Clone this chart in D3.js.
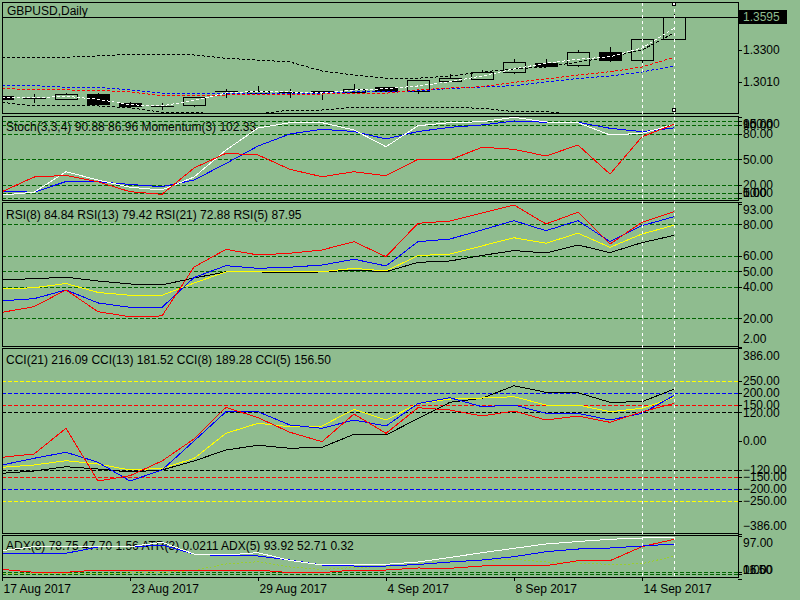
<!DOCTYPE html>
<html>
<head>
<meta charset="utf-8">
<script src="https://cdn.jsdelivr.net/npm/d3@7"></script>
<style>
  body { margin: 0; background: #8fbc8f; }
  svg { display: block; font-family: "Liberation Sans", Arial, sans-serif; font-size: 12px; shape-rendering: crispEdges; }
</style>
</head>
<body>
<svg class="chart" width="800" height="600"></svg>
<script>
// ---- data ----
var dates = ["2017-08-17","2017-08-18","2017-08-21","2017-08-22","2017-08-23","2017-08-24","2017-08-25",
             "2017-08-28","2017-08-29","2017-08-30","2017-08-31","2017-09-01","2017-09-04","2017-09-05",
             "2017-09-06","2017-09-07","2017-09-08","2017-09-11","2017-09-12","2017-09-13","2017-09-14","2017-09-15"];
var tickDates = ["2017-08-17","2017-08-23","2017-08-29","2017-09-04","2017-09-08","2017-09-14"];

var open  = [1.2886,1.2867,1.2853,1.2901,1.2817,1.2794,1.2795,1.2927,1.2910,1.2918,1.2929,1.2922,1.2962,1.2929,1.3025,1.3035,1.3098,1.3185,1.3161,1.3279,1.3207,1.3397];
var high  = [1.2892,1.2901,1.2908,1.2906,1.2829,1.2823,1.2874,1.2944,1.2971,1.2944,1.2930,1.2992,1.2965,1.3028,1.3083,1.3116,1.3221,1.3221,1.3300,1.3327,1.3400,1.3626];
var low   = [1.2852,1.2820,1.2844,1.2804,1.2772,1.2756,1.2786,1.2868,1.2908,1.2868,1.2844,1.2901,1.2920,1.2899,1.3022,1.3025,1.3085,1.3158,1.3146,1.3194,1.3149,1.3394];
var close = [1.2859,1.2863,1.2899,1.2813,1.2786,1.2791,1.2871,1.2930,1.2931,1.2916,1.2917,1.2947,1.2922,1.3025,1.3049,1.3101,1.3189,1.3161,1.3279,1.3207,1.3397,1.3595];

var maWhite = [1.2868,1.2865,1.2881,1.2853,1.2804,1.2793,1.2844,1.2910,1.2926,1.2920,1.2910,1.2938,1.2949,1.2974,1.3013,1.3064,1.3128,1.3180,1.3216,1.3239,1.3318,1.3497];
var maRed   = [1.2953,1.2938,1.2938,1.2935,1.2920,1.2886,1.2886,1.2892,1.2897,1.2899,1.2901,1.2904,1.2908,1.2938,1.2956,1.2967,1.3007,1.3037,1.3073,1.3103,1.3146,1.3234];
var maBlue  = [1.2977,1.2977,1.2962,1.2962,1.2938,1.2910,1.2908,1.2908,1.2908,1.2908,1.2910,1.2920,1.2924,1.2929,1.2951,1.2965,1.2977,1.3010,1.3042,1.3064,1.3101,1.3155];
var bbUpper = [1.3234,1.3234,1.3234,1.3246,1.3261,1.3255,1.3255,1.3225,1.3209,1.3191,1.3110,1.3073,1.3044,1.3044,1.3064,1.3101,1.3128,1.3146,1.3191,1.3237,1.3300,1.3454];
var bbLower = [1.2826,1.2793,1.2793,1.2793,1.2777,1.2736,1.2736,1.2711,1.2720,1.2756,1.2756,1.2781,1.2781,1.2781,1.2779,1.2772,1.2741,1.2741,1.2711,1.2684,1.2666,1.2621];
var priceTicks = [1.3300, 1.3010];

var stochMain   = [8.0,11.2,35.4,25.6,17.1,13.9,29.2,60.9,86.8,93.1,93.1,84.5,64.8,89.5,93.1,94.2,99.4,93.9,93.1,78.6,80.6,90.88];
var stochSignal = [12.7,11.2,23.9,23.6,20.4,17.8,25.6,45.1,65.6,79.8,85.3,82.7,73.9,82.7,87.6,90.4,95.1,93.5,93.5,86.5,82.5,86.96];
var momentum    = [97.78,98.77,98.88,98.45,97.78,97.60,99.38,100.37,100.26,99.29,98.79,99.13,98.86,99.97,99.92,100.78,100.64,100.19,100.93,98.97,101.49,102.33];
var stochLevels = [95, 90, 80, 50, 20, 10, 5];
var stochTicks  = [100, 95, 90, 80, 50, 20, 10, 5, 0];

var rsi8  = [31.2,32.5,38.1,29.8,27.0,27.0,46.0,53.6,51.9,52.6,54.0,57.7,53.4,68.9,70.6,76.4,82.3,75.9,82.3,68.9,79.1,84.84];
var rsi13 = [38.7,39.5,42.2,36.5,34.7,34.7,42.5,49.6,49.7,49.7,49.7,51.9,50.2,60.0,61.0,66.2,71.4,67.9,74.3,65.3,73.8,79.42];
var rsi21 = [44.5,45.3,46.2,43.8,41.9,41.3,45.7,49.6,49.6,49.1,49.6,50.8,49.7,55.7,56.6,60.1,63.2,61.7,66.8,61.9,68.3,72.88];
var rsi5  = [23.8,27.4,38.1,24.2,21.0,21.5,52.7,64.0,60.4,61.5,63.6,68.9,59.3,80.6,82.1,87.2,92.3,80.2,87.7,67.4,81.3,87.95];
var rsiLevels = [80, 60, 50, 40, 20];
var rsiTicks  = [93, 80, 60, 50, 40, 20, 2];

var cci21 = [-134.6,-125,-107.1,-116.7,-129.2,-120.8,-83.3,-37.5,-17.9,-30.4,-26.3,27.9,25,93.8,161.3,177.9,230.4,202.9,201.3,161.3,163.8,216.09];
var cci13 = [-109.6,-100,-82.1,-95.8,-120.8,-113.8,-72.9,32.1,73.8,59.6,62.5,132.1,87.5,156.3,175,179.2,184.6,150,150,122.1,136.3,181.52];
var cci8  = [-100,-72.1,-47.1,-88.8,-166.7,-120.8,0,122.1,122.1,66.7,52.9,87.5,62.5,156.3,180.4,142.9,150,115.4,115.4,87.5,115.4,189.28];
var cci5  = [-67.9,-54.2,52.9,-166.7,-144.6,-83.3,8.3,140.4,97.1,36.3,-2.9,112.5,32.1,138.8,129.2,104.2,125,87.5,104.2,77.9,122.1,156.50];
var cciLevels = [250, 200, 150, 120, -120, -150, -200, -250];
var cciTicks  = [386, 250, 200, 150, 120, 0, -120, -150, -200, -250, -386];

var adx5  = [63.7,72.8,72.8,72.8,72.8,82.7,56.2,53.9,59.2,41.5,31.3,31.3,32.9,38.1,48.3,59.2,69.1,78.9,84.5,89.5,92.5,93.92];
var adx8  = [57.8,57.8,57.8,72.1,72.1,76.6,56.2,51.7,51.7,42.6,31.3,29.0,29.0,32.4,38.1,42.6,50.1,61.4,67.5,69.8,74.3,78.75];
var adxRedLine = [21.5,14.7,14.7,19.9,19.9,18.8,18.8,19.9,19.9,13.8,13.8,19.9,19.9,24.5,23.8,29.0,29.7,29.7,41.0,41.0,72.8,89.5];
var atr3  = [0.0078,0.0076,0.0077,0.0079,0.0080,0.0083,0.0099,0.0149,0.0167,0.0126,0.0107,0.0122,0.0130,0.0149,0.0167,0.0176,0.0186,0.0165,0.0157,0.0146,0.0151,0.0211];
var adx8Di = [47.70, 1.56];
var adx5Di = [52.71, 0.32];
var adxLevels = [16, 11.5];
var adxTicks  = [97, 16, 11.5, 0];

// ---- chart ----
var bg = "#8fbc8f", lvlGreen = "#006400";
var svg = d3.select(".chart");
svg.append("rect").attr("width", 800).attr("height", 600).attr("fill", bg);

var x = d3.scalePoint().domain(dates).range([2, 674]);
var parse = d3.timeParse("%Y-%m-%d"), fmtDate = d3.timeFormat("%-d %b %Y");
var f2 = d3.format(".2f"), f4 = d3.format(".4f");
var last = dates.length - 1;

var yPrice = d3.scaleLinear().domain([1.2729, 1.3735]).range([113, 2]);
var yStoch = d3.scaleLinear().domain([0, 100]).range([201.8, 116.8]);
var yMom   = d3.scaleLinear().domain([97.22, 102.89]).range([200, 116]);
var yRsi   = d3.scaleLinear().domain([2, 93]).range([346.5, 203.9]);
var yCci   = d3.scaleLinear().domain([-386, 386]).range([533.6, 348.4]);
var yAdx   = d3.scaleLinear().domain([0, 97]).range([578.8, 536]);
var yAtr   = d3.scaleLinear().domain([0.0049, 0.0373]).range([577, 535]);

function pane(top, bottom, id) {
    svg.append("clipPath").attr("id", id).append("rect")
        .attr("x", 3).attr("y", top + 1).attr("width", 735).attr("height", bottom - top - 1);
    var g = svg.append("g").attr("clip-path", "url(#" + id + ")");
    svg.append("rect").attr("x", 2.5).attr("y", top + 0.5)
        .attr("width", 736).attr("height", bottom - top)
        .attr("fill", "none").attr("stroke", "#000");
    return g;
}

function series(g, vals, y, color, dash) {
    g.append("path").datum(vals)
        .attr("d", d3.line().x(function(d, i) { return x(dates[i]); }).y(function(d) { return y(d); }))
        .attr("fill", "none").attr("stroke", color).attr("stroke-width", 1)
        .attr("stroke-dasharray", dash || null);
}

function levels(g, vals, y, color) {
    g.selectAll(null).data(vals).enter().append("line")
        .attr("x1", 2).attr("x2", 738)
        .attr("y1", function(d) { return Math.round(y(d)) + 0.5; })
        .attr("y2", function(d) { return Math.round(y(d)) + 0.5; })
        .attr("stroke", typeof color === "function" ? color : function() { return color; })
        .attr("stroke-dasharray", "4,2");
}

function rightAxis(vals, y, top, bottom, fmt) {
    var ax = svg.append("g").attr("transform", "translate(738,0)")
        .call(d3.axisRight(y).tickValues(vals).tickSize(4).tickPadding(1).tickFormat(fmt));
    ax.attr("font-size", 12).attr("font-family", null);
    ax.select(".domain").remove();
    ax.selectAll("text").attr("y", function(d) {
        var yy = y(d);
        return Math.max(top + 8, Math.min(bottom - 7, yy)) - yy;
    });
}

function label(txt, yy) {
    svg.append("text").attr("x", 6).attr("y", yy).attr("fill", "#000").text(txt);
}

// main pane
var gMain = pane(2, 113, "clipMain");
var candles = gMain.selectAll(null).data(dates).enter().append("g");
candles.append("line")
    .attr("x1", function(d) { return x(d) + 0.5; }).attr("x2", function(d) { return x(d) + 0.5; })
    .attr("y1", function(d, i) { return yPrice(high[i]); })
    .attr("y2", function(d, i) { return yPrice(low[i]); })
    .attr("stroke", "#000");
candles.each(function(d, i) {
    var g = d3.select(this), yo = yPrice(open[i]), yc = yPrice(close[i]);
    if (Math.abs(yo - yc) < 1) {
        g.append("line").attr("x1", x(d) - 11).attr("x2", x(d) + 12)
            .attr("y1", Math.round(yc) + 0.5).attr("y2", Math.round(yc) + 0.5).attr("stroke", "#000");
    } else {
        g.append("rect").attr("x", x(d) - 11 + 0.5).attr("y", Math.round(Math.min(yo, yc)) + 0.5)
            .attr("width", 22).attr("height", Math.max(1, Math.round(Math.abs(yo - yc))))
            .attr("fill", close[i] >= open[i] ? bg : "#000").attr("stroke", "#000");
    }
});
series(gMain, bbUpper, yPrice, "#000", "3,2");
series(gMain, bbLower, yPrice, "#000", "3,2");
series(gMain, maBlue, yPrice, "#0000ff", "3,2");
series(gMain, maRed, yPrice, "#ff0000", "3,2");
series(gMain, maWhite, yPrice, "#ffffff", "3,2");
gMain.append("line").attr("x1", 2).attr("x2", 738)
    .attr("y1", Math.round(yPrice(close[last])) + 0.5).attr("y2", Math.round(yPrice(close[last])) + 0.5)
    .attr("stroke", "#000");
svg.append("text").attr("x", 7).attr("y", 15).text("GBPUSD,Daily");
rightAxis(priceTicks, yPrice, 2, 113, f4);
var bidY = Math.round(yPrice(close[last]));
svg.append("rect").attr("x", 739).attr("y", bidY - 7).attr("width", 48).attr("height", 14).attr("fill", "#000");
svg.append("text").attr("x", 743).attr("y", bidY).attr("dy", "0.35em").attr("fill", bg).text(f4(close[last]));

// stochastic + momentum
label("Stoch(3,3,4) " + f2(stochMain[last]) + " " + f2(stochSignal[last]) + " Momentum(3) " + f2(momentum[last]), 131);
var gSto = pane(116, 200, "clipSto");
levels(gSto, stochLevels, yStoch, lvlGreen);
series(gSto, stochSignal, yStoch, "#0000ff");
series(gSto, stochMain, yStoch, "#ffffff");
series(gSto, momentum, yMom, "#ff0000");
rightAxis(stochTicks, yStoch, 116, 200, f2);

// RSI
label("RSI(8) " + f2(rsi8[last]) + " RSI(13) " + f2(rsi13[last]) + " RSI(21) " + f2(rsi21[last]) + " RSI(5) " + f2(rsi5[last]), 219);
var gRsi = pane(202, 346, "clipRsi");
levels(gRsi, rsiLevels, yRsi, lvlGreen);
series(gRsi, rsi21, yRsi, "#000000");
series(gRsi, rsi13, yRsi, "#ffff00");
series(gRsi, rsi8, yRsi, "#0000ff");
series(gRsi, rsi5, yRsi, "#ff0000");
rightAxis(rsiTicks, yRsi, 202, 346, f2);

// CCI
label("CCI(21) " + f2(cci21[last]) + " CCI(13) " + f2(cci13[last]) + " CCI(8) " + f2(cci8[last]) + " CCI(5) " + f2(cci5[last]), 364);
var gCci = pane(348, 533, "clipCci");
var cciColor = { 250: "#ffff00", 200: "#0000ff", 150: "#ff0000", 120: "#000000" };
levels(gCci, cciLevels, yCci, function(d) { return cciColor[Math.abs(d)]; });
series(gCci, cci21, yCci, "#000000");
series(gCci, cci13, yCci, "#ffff00");
series(gCci, cci8, yCci, "#0000ff");
series(gCci, cci5, yCci, "#ff0000");
rightAxis(cciTicks, yCci, 348, 533, f2);

// ADX + ATR
label("ADX(8) " + f2(adx8[last]) + " " + f2(adx8Di[0]) + " " + f2(adx8Di[1]) +
      " ATR(3) " + f4(atr3[last]) +
      " ADX(5) " + f2(adx5[last]) + " " + f2(adx5Di[0]) + " " + f2(adx5Di[1]), 550);
var gAdx = pane(535, 577, "clipAdx");
levels(gAdx, adxLevels, yAdx, lvlGreen);
series(gAdx, atr3, yAtr, "#9acd32", "2,2");
series(gAdx, adxRedLine, yAdx, "#ff0000");
series(gAdx, adx8, yAdx, "#0000ff");
series(gAdx, adx5, yAdx, "#ffffff");
rightAxis(adxTicks, yAdx, 535, 577, f2);

// time axis
var xa = svg.append("g").attr("transform", "translate(0,577)")
    .call(d3.axisBottom(x).tickValues(tickDates).tickSize(4)
        .tickFormat(function(d) { return fmtDate(parse(d)); }));
xa.attr("font-size", 12).attr("font-family", null);
xa.select(".domain").remove();
xa.selectAll("text").attr("text-anchor", "start").attr("x", 1);

// vertical marker lines at the last two bars
svg.selectAll(null).data([dates[last - 1], dates[last]]).enter().append("line")
    .attr("x1", function(d) { return x(d) + 0.5; }).attr("x2", function(d) { return x(d) + 0.5; })
    .attr("y1", 3).attr("y2", 577)
    .attr("stroke", "#ffffff").attr("stroke-dasharray", "3,3");
svg.selectAll(null).data([4, 110]).enter().append("rect")
    .attr("x", x(dates[last]) - 1.5).attr("y", function(d) { return d - 1.5; })
    .attr("width", 3).attr("height", 3)
    .attr("fill", "#ffffff").attr("stroke", "#000");
</script>
</body>
</html>
